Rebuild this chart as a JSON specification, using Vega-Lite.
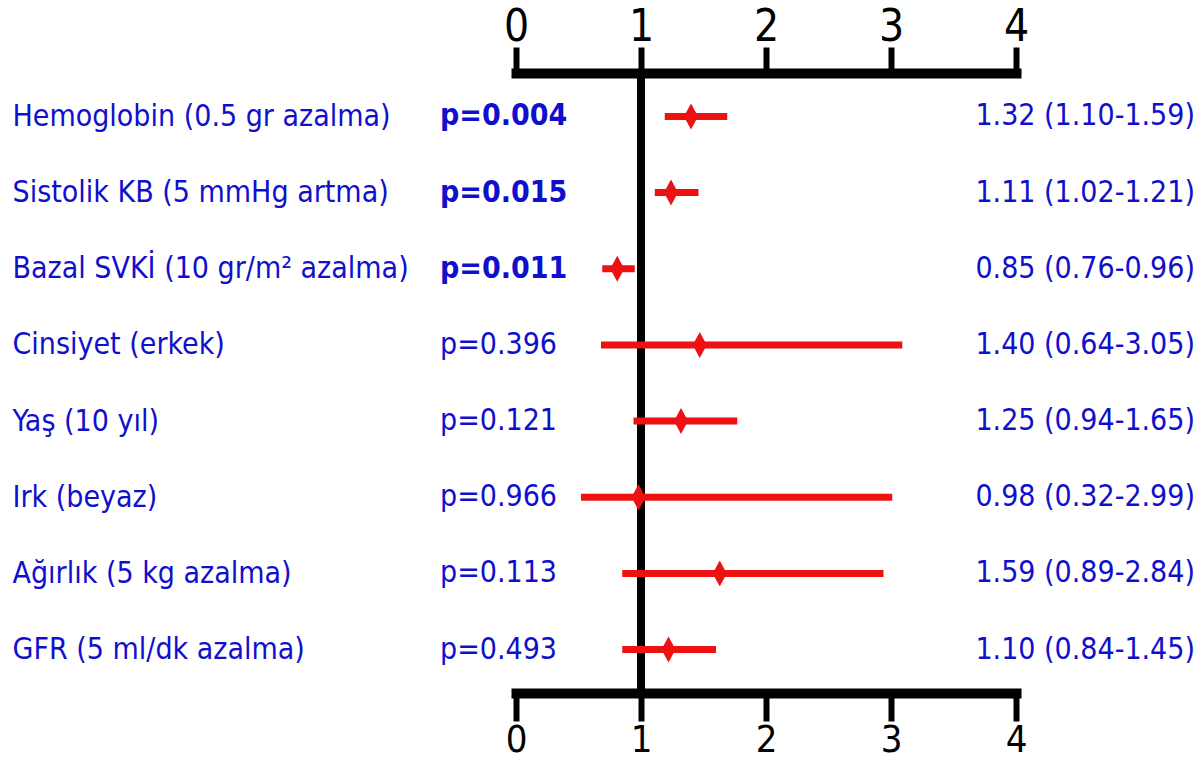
{
  "$schema": "https://vega.github.io/schema/vega-lite/v6.json",
  "width": 500,
  "height": 620,
  "autosize": {"type": "none"},
  "padding": {"left": 516, "top": 73, "right": 185, "bottom": 68},
  "background": "white",
  "config": {"view": {"stroke": null}, "axis": {"grid": false}},
  "data": {
    "values": [
      {"name": "Hemoglobin (0.5 gr azalma)", "pval": 0.004, "ptext": "p=0.004", "ci": "1.32 (1.10-1.59)", "est": 1.40, "lo": 1.19, "hi": 1.69},
      {"name": "Sistolik KB (5 mmHg artma)", "pval": 0.015, "ptext": "p=0.015", "ci": "1.11 (1.02-1.21)", "est": 1.24, "lo": 1.11, "hi": 1.46},
      {"name": "Bazal SVKİ (10 gr/m² azalma)", "pval": 0.011, "ptext": "p=0.011", "ci": "0.85 (0.76-0.96)", "est": 0.81, "lo": 0.69, "hi": 0.95},
      {"name": "Cinsiyet (erkek)", "pval": 0.396, "ptext": "p=0.396", "ci": "1.40 (0.64-3.05)", "est": 1.47, "lo": 0.68, "hi": 3.09},
      {"name": "Yaş (10 yıl)", "pval": 0.121, "ptext": "p=0.121", "ci": "1.25 (0.94-1.65)", "est": 1.32, "lo": 0.94, "hi": 1.77},
      {"name": "Irk (beyaz)", "pval": 0.966, "ptext": "p=0.966", "ci": "0.98 (0.32-2.99)", "est": 0.98, "lo": 0.52, "hi": 3.01},
      {"name": "Ağırlık (5 kg azalma)", "pval": 0.113, "ptext": "p=0.113", "ci": "1.59 (0.89-2.84)", "est": 1.63, "lo": 0.85, "hi": 2.94},
      {"name": "GFR (5 ml/dk azalma)", "pval": 0.493, "ptext": "p=0.493", "ci": "1.10 (0.84-1.45)", "est": 1.22, "lo": 0.85, "hi": 1.60}
    ]
  },
  "resolve": {"axis": {"x": "independent"}},
  "layer": [
    {
      "data": {"values": [{"ref": 1}]},
      "mark": {"type": "rule", "color": "black", "strokeWidth": 8},
      "encoding": {
        "x": {
          "field": "ref",
          "type": "quantitative",
          "scale": {"domain": [0, 4], "nice": false, "zero": false},
          "axis": {
            "orient": "bottom",
            "values": [0, 1, 2, 3, 4],
            "format": "d",
            "title": null,
            "domainColor": "black",
            "domainWidth": 10,
            "domainCap": "square",
            "tickColor": "black",
            "tickWidth": 6,
            "tickSize": 28,
            "labelFont": "Liberation Sans Narrow, Arial Narrow, DejaVu Sans Condensed, sans-serif",
            "labelFontSize": 38,
            "labelColor": "black",
            "labelPadding": 0,
            "labelFlush": false,
            "labelOverlap": false
          }
        }
      }
    },
    {
      "data": {"values": [{"ref": 1}]},
      "mark": {"type": "rule", "color": "black", "strokeWidth": 8},
      "encoding": {
        "x": {
          "field": "ref",
          "type": "quantitative",
          "scale": {"domain": [0, 4], "nice": false, "zero": false},
          "axis": {
            "orient": "top",
            "values": [0, 1, 2, 3, 4],
            "format": "d",
            "title": null,
            "domainColor": "black",
            "domainWidth": 10,
            "domainCap": "square",
            "tickColor": "black",
            "tickWidth": 6,
            "tickSize": 26,
            "labelFont": "Liberation Sans Narrow, Arial Narrow, DejaVu Sans Condensed, sans-serif",
            "labelFontSize": 44,
            "labelColor": "black",
            "labelPadding": 7,
            "labelBaseline": "alphabetic",
            "labelFlush": false,
            "labelOverlap": false
          }
        }
      }
    },
    {
      "encoding": {
        "y": {
          "field": "name",
          "type": "nominal",
          "sort": null,
          "scale": {"type": "point", "padding": 0.57},
          "axis": {
            "orient": "left",
            "title": null,
            "domain": false,
            "ticks": false,
            "labelAlign": "left",
            "labelBaseline": "middle",
            "labelPadding": 504,
            "labelLimit": 700,
            "labelFont": "DejaVu Sans Condensed, DejaVu Sans, sans-serif",
            "labelFontSize": 30,
            "labelColor": "#1010cc"
          }
        }
      },
      "layer": [
        {
          "mark": {"type": "rule", "color": "#ee1111", "strokeWidth": 7},
          "encoding": {
            "x": {"field": "lo", "type": "quantitative", "axis": null},
            "x2": {"field": "hi"}
          }
        },
        {
          "mark": {"type": "point", "shape": "M0,-1L0.54,0L0,1L-0.54,0Z", "filled": true, "color": "#ee1111", "opacity": 1, "size": 676},
          "encoding": {
            "x": {"field": "est", "type": "quantitative", "axis": null}
          }
        },
        {
          "transform": [{"filter": "datum.pval < 0.05"}],
          "mark": {"type": "text", "align": "left", "baseline": "middle", "dx": -76, "font": "DejaVu Sans Condensed, DejaVu Sans, sans-serif", "fontSize": 30, "fontWeight": "bold", "color": "#1010cc"},
          "encoding": {
            "x": {"datum": 0, "type": "quantitative", "axis": null},
            "text": {"field": "ptext", "type": "nominal"}
          }
        },
        {
          "transform": [{"filter": "datum.pval >= 0.05"}],
          "mark": {"type": "text", "align": "left", "baseline": "middle", "dx": -76, "font": "DejaVu Sans Condensed, DejaVu Sans, sans-serif", "fontSize": 30, "fontWeight": "normal", "color": "#1010cc"},
          "encoding": {
            "x": {"datum": 0, "type": "quantitative", "axis": null},
            "text": {"field": "ptext", "type": "nominal"}
          }
        },
        {
          "mark": {"type": "text", "align": "right", "baseline": "middle", "dx": 179, "font": "DejaVu Sans Condensed, DejaVu Sans, sans-serif", "fontSize": 30, "color": "#1010cc"},
          "encoding": {
            "x": {"datum": 4, "type": "quantitative", "axis": null},
            "text": {"field": "ci", "type": "nominal"}
          }
        }
      ]
    }
  ]
}
